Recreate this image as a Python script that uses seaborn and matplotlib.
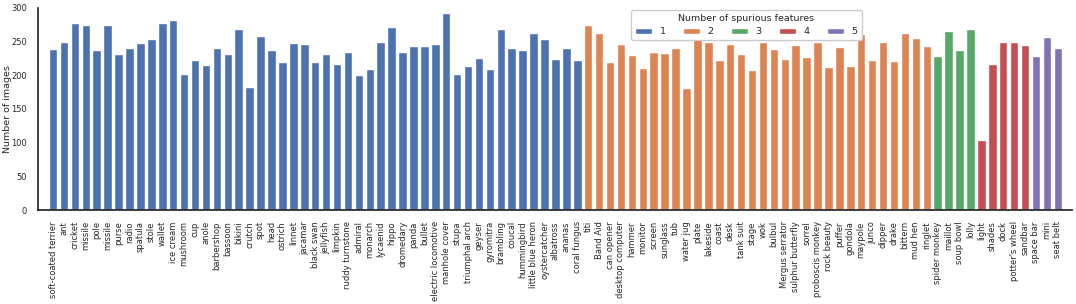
import matplotlib
matplotlib.use("Agg")
import matplotlib.pyplot as plt
import seaborn as sns
import pandas as pd

# class names, in plot order
labels_1 = ['soft-coated terrier', 'ant', 'cricket', 'missile', 'pole', 'missile', 'purse', 'radio',
            'spatula', 'stole', 'wallet', 'ice cream', 'mushroom', 'cup', 'anole', 'barbershop',
            'bassoon', 'bikini', 'crutch', 'spot', 'head', 'ostrich', 'linnet', 'jacamar',
            'black swan', 'jellyfish', 'limpkin', 'ruddy turnstone', 'admiral', 'monarch',
            'lycaenid', 'hippo', 'dromedary', 'panda', 'bullet', 'electric locomotive',
            'manhole cover', 'stupa', 'triumphal arch', 'geyser', 'gyromitra', 'brambling',
            'coucal', 'hummingbird', 'little blue heron', 'oystercatcher', 'albatross',
            'ananas', 'coral fungus']
counts_1 = [239, 249, 277, 275, 238, 274, 232, 241, 248, 254, 278, 282, 202, 223, 216, 241,
            232, 268, 183, 259, 238, 219, 248, 246, 219, 232, 217, 234, 200, 209, 249, 271,
            234, 244, 243, 246, 292, 202, 214, 225, 210, 268, 241, 238, 263, 254, 224, 241, 222]

labels_2 = ['titi', 'Band Aid', 'can opener', 'desktop computer', 'hammer', 'monitor', 'screen',
            'sunglass', 'tub', 'water jug', 'plate', 'lakeside', 'coast', 'desk', 'tank suit',
            'stage', 'wok', 'bulbul', 'Mergus serrator', 'sulphur butterfly', 'sorrel',
            'proboscis monkey', 'rock beauty', 'puffer', 'gondola', 'maypole', 'junco', 'dipper',
            'drake', 'bittern', 'mud hen', 'ringlet']
counts_2 = [275, 263, 220, 246, 230, 211, 234, 233, 240, 181, 255, 250, 223, 247, 232, 208,
            250, 239, 224, 245, 227, 249, 213, 242, 214, 261, 222, 250, 221, 263, 255, 244]

labels_3 = ['spider monkey', 'maillot', 'soup bowl', 'lolly']
counts_3 = [228, 266, 238, 268]

labels_4 = ['light', 'shades', 'dock', "potter's wheel", 'sandbar']
counts_4 = [104, 217, 249, 249, 245]

labels_5 = ['space bar', 'mini', 'seat belt']
counts_5 = [228, 257, 241]

groups = [('1', labels_1, counts_1), ('2', labels_2, counts_2), ('3', labels_3, counts_3),
          ('4', labels_4, counts_4), ('5', labels_5, counts_5)]

rows = []
for g, labs, cnts in groups:
    for lab, c in zip(labs, cnts):
        rows.append({'pos': len(rows), 'label': lab, 'count': c, 'group': g})
df = pd.DataFrame(rows)

sns.set_theme(style="white", palette="deep")
plt.rcParams['font.family'] = ['DejaVu Sans']

fs = 6.0      # tick labels
fs_big = 6.8  # axis label / legend

fig = plt.figure(figsize=(10.76, 3.04), dpi=100)
ax = fig.add_axes([0.0356, 0.309, 0.9607, 0.665])

sns.barplot(data=df, x='pos', y='count', hue='group', hue_order=['1', '2', '3', '4', '5'],
            palette='deep', saturation=1, dodge=False, width=0.78, ax=ax)

ax.set_xticks(range(len(df)))
ax.set_xticklabels(df['label'], rotation=90, fontsize=fs)
ax.tick_params(axis='x', pad=2)
ax.tick_params(axis='y', labelsize=fs, pad=2)
ax.set_xlim(-1.35, len(df) + 0.3)
ax.set_ylim(0, 300)
ax.set_xlabel('')
ax.set_ylabel('Number of images', fontsize=fs_big)
ax.yaxis.set_label_coords(-0.025, 0.5)
sns.despine(ax=ax)

ax.legend(title='Number of spurious features', ncol=5, loc='upper center',
          bbox_to_anchor=(0.685, 1.0), fontsize=fs_big, title_fontsize=fs_big,
          handlelength=1.8, handleheight=0.65, handletextpad=0.8, columnspacing=1.85,
          borderaxespad=0.2, framealpha=1)

fig.savefig('out.png', dpi=100)
